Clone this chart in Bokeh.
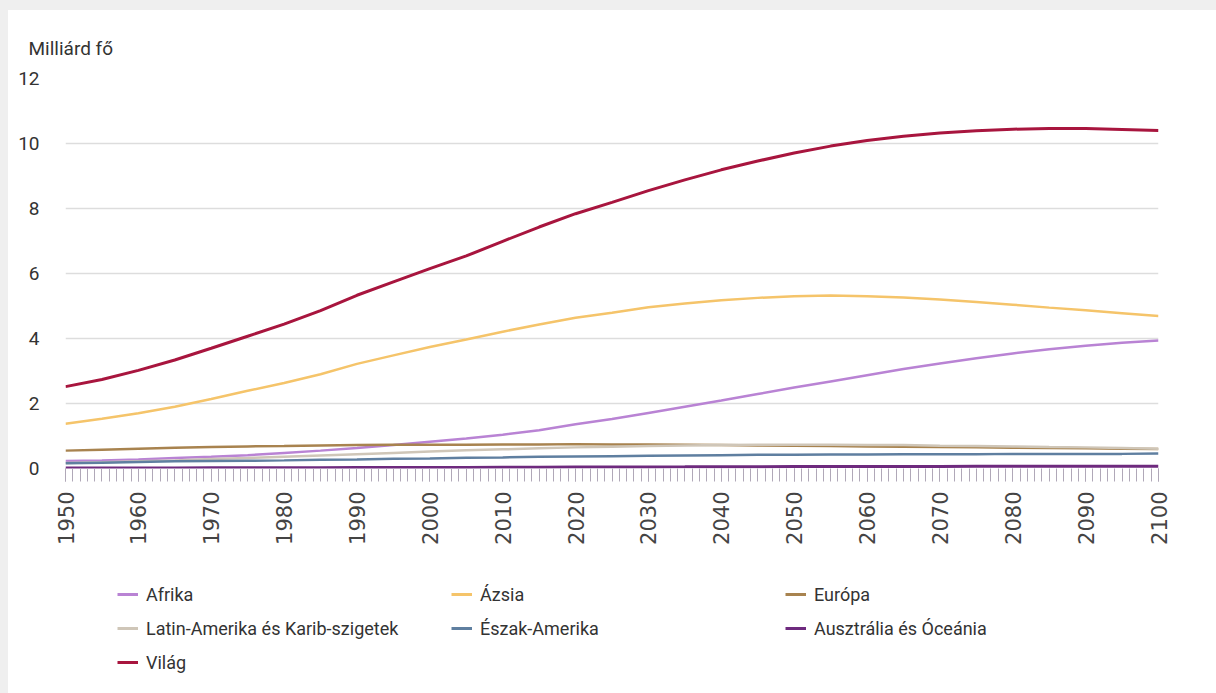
import math
from bokeh.plotting import figure
from bokeh.models import (Range1d, SingleIntervalTicker, Legend, LegendItem,
                          ColumnDataSource)
from bokeh.layouts import column
from bokeh.embed import file_html
from bokeh.resources import INLINE

years = list(range(1950, 2101, 5))

afrika = [0.23, 0.25, 0.28, 0.32, 0.36, 0.41, 0.48, 0.55, 0.63, 0.72, 0.82, 0.92,
          1.04, 1.18, 1.36, 1.52, 1.71, 1.90, 2.09, 2.29, 2.49, 2.68, 2.87, 3.06,
          3.23, 3.39, 3.54, 3.67, 3.78, 3.87, 3.94]
azsia = [1.38, 1.53, 1.70, 1.90, 2.14, 2.39, 2.63, 2.90, 3.22, 3.48, 3.74, 3.97,
         4.21, 4.43, 4.64, 4.79, 4.96, 5.08, 5.18, 5.25, 5.30, 5.32, 5.30, 5.26,
         5.20, 5.12, 5.04, 4.95, 4.87, 4.78, 4.69]
europa = [0.55, 0.58, 0.61, 0.64, 0.66, 0.68, 0.69, 0.71, 0.72, 0.73, 0.73, 0.73,
          0.74, 0.74, 0.75, 0.74, 0.74, 0.73, 0.72, 0.71, 0.70, 0.69, 0.68, 0.67,
          0.66, 0.65, 0.64, 0.63, 0.62, 0.61, 0.60]
latin = [0.17, 0.19, 0.22, 0.25, 0.29, 0.32, 0.36, 0.40, 0.44, 0.48, 0.52, 0.56,
         0.59, 0.62, 0.65, 0.67, 0.69, 0.71, 0.72, 0.73, 0.73, 0.73, 0.72, 0.72,
         0.70, 0.69, 0.68, 0.66, 0.65, 0.63, 0.61]
eszak = [0.16, 0.18, 0.20, 0.22, 0.23, 0.24, 0.25, 0.27, 0.28, 0.30, 0.31, 0.33,
         0.34, 0.36, 0.37, 0.38, 0.39, 0.40, 0.41, 0.42, 0.42, 0.43, 0.43, 0.44,
         0.44, 0.44, 0.45, 0.45, 0.45, 0.45, 0.46]
oceania = [0.013, 0.014, 0.016, 0.018, 0.020, 0.022, 0.023, 0.025, 0.027, 0.029,
           0.031, 0.034, 0.037, 0.040, 0.043, 0.046, 0.049, 0.051, 0.054, 0.056,
           0.058, 0.060, 0.062, 0.064, 0.065, 0.066, 0.067, 0.068, 0.069, 0.069, 0.069]
vilag = [2.52, 2.74, 3.02, 3.34, 3.70, 4.07, 4.44, 4.86, 5.33, 5.74, 6.15, 6.54,
         6.99, 7.43, 7.84, 8.19, 8.55, 8.88, 9.19, 9.46, 9.71, 9.92, 10.09, 10.22,
         10.32, 10.39, 10.44, 10.46, 10.46, 10.43, 10.40]

series_names = ["Afrika", "Ázsia", "Európa", "Latin-Amerika és Karib-szigetek",
                "Észak-Amerika", "Ausztrália és Óceánia", "Világ"]
series_values = [afrika, azsia, europa, latin, eszak, oceania, vilag]
colors = ["#b983d4", "#f5c46a", "#a8834f", "#cfc6b8", "#5f7fa0", "#6e2a7e", "#a8153e"]
widths = [2.5, 2.5, 2.5, 2.5, 2.5, 3, 3]

y_label = "Milliárd fő"

# ---------------- main chart ----------------
p = figure(width=1208, height=540, output_backend="svg", toolbar_location=None,
           x_range=Range1d(1950, 2100), y_range=Range1d(0, 12),
           min_border_left=57, min_border_right=58, min_border_top=68,
           min_border_bottom=82)
p.margin = (10, 0, 0, 8)
p.outline_line_color = None
p.background_fill_color = None
p.border_fill_color = None
p.styles = {"background-color": "white"}

p.title.text = y_label
p.title.text_font = "Roboto"
p.title.text_font_size = "19px"
p.title.text_font_style = "normal"
p.title.text_color = "#333333"
p.title.align = "left"
p.title.offset = -37
p.title.standoff = 38

xa = p.xaxis[0]
xa.ticker = SingleIntervalTicker(interval=10, num_minor_ticks=10)
xa.axis_line_color = None
xa.major_tick_in = 0
xa.major_tick_out = 13
xa.minor_tick_in = 0
xa.minor_tick_out = 13
xa.major_tick_line_color = "#b0a8b8"
xa.minor_tick_line_color = "#b0a8b8"
xa.major_label_orientation = math.pi / 2
xa.major_label_text_font = "DejaVu Sans"
xa.major_label_text_font_size = "21px"
xa.major_label_text_color = "#444444"
xa.major_label_standoff = 10

ya = p.yaxis[0]
ya.ticker = SingleIntervalTicker(interval=2, num_minor_ticks=0)
ya.axis_line_color = None
ya.major_tick_line_color = None
ya.minor_tick_line_color = None
ya.major_label_text_font = "Roboto"
ya.major_label_text_font_size = "19px"
ya.major_label_text_color = "#333333"
ya.major_label_standoff = 20

p.xgrid.grid_line_color = None
p.ygrid.grid_line_color = "#dddddd"
p.ygrid.grid_line_width = 1.5

for vals, c, w in zip(series_values, colors, widths):
    src = ColumnDataSource(dict(x=years, y=vals))
    p.line("x", "y", source=src, line_color=c, line_width=w)

# ---------------- legend strip ----------------
# same series drawn into a view range where they are not visible; only
# the legend of this strip shows
lg = figure(width=1208, height=143, output_backend="svg", toolbar_location=None,
            x_range=Range1d(0, 1), y_range=Range1d(0, 1),
            x_axis_type=None, y_axis_type=None,
            min_border=0, min_border_left=0, min_border_right=0,
            min_border_top=0, min_border_bottom=0)
lg.margin = (0, 0, 0, 8)
lg.outline_line_color = None
lg.grid.visible = False
lg.background_fill_color = None
lg.border_fill_color = None
lg.styles = {"background-color": "white"}

items = []
for name, vals, c in zip(series_names, series_values, colors):
    src = ColumnDataSource(dict(x=years, y=vals))
    r = lg.line("x", "y", source=src, line_color=c, line_width=3)
    items.append(LegendItem(label=name, renderers=[r]))

legend = Legend(items=items, orientation="horizontal", ncols=3,
                location=(52, 17))
legend.label_text_font = "Roboto"
legend.label_text_font_size = "18px"
legend.label_text_color = "#333333"
legend.glyph_width = 21
legend.glyph_height = 28
legend.label_height = 28
legend.label_standoff = 8
legend.label_width = 299
legend.spacing = 6
legend.padding = 0
legend.margin = 0
legend.border_line_color = None
legend.background_fill_alpha = 0
lg.add_layout(legend, "center")

layout = column(p, lg, spacing=0, styles={"background-color": "#efefef"})

open("out.html", "w").write(file_html(layout, INLINE))
